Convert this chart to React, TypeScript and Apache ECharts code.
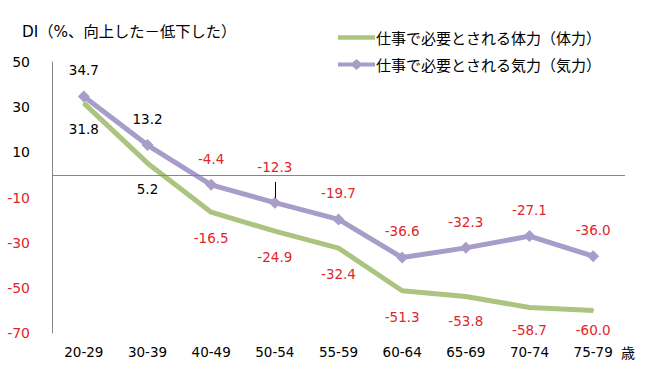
import React, { useEffect, useRef } from "react";
import * as echarts from "echarts";

const categories = ["20-29", "30-39", "40-49", "50-54", "55-59", "60-64", "65-69", "70-74", "75-79"];
const physical = [31.8, 5.2, -16.5, -24.9, -32.4, -51.3, -53.8, -58.7, -60.0];
const mental = [34.7, 13.2, -4.4, -12.3, -19.7, -36.6, -32.3, -27.1, -36.0];
const seriesNames = ["仕事で必要とされる体力（体力）", "仕事で必要とされる気力（気力）"];
const titleText = "DI（%、向上した－低下した）";
const unitText = "歳";

const LATIN = "'DejaVu Sans', 'Noto Sans CJK JP', sans-serif";
const CJK = "'Noto Sans CJK JP', 'DejaVu Sans', sans-serif";
const GREEN = "#abc480";
const PURPLE = "#a89cc8";
const RED = "#e0262a";

const greenDist = [18, 18, 18, 18, 18, 18, 16.5, 14.5, 11.5];
const purpleDist = [13.5, 13.5, 13.5, 22.5, 13.5, 13.5, 13.5, 13.5, 13.5];

const valColor = (v: number) => (v < 0 ? RED : "#000000");

export default function App() {
  const ref = useRef<HTMLDivElement>(null);
  useEffect(() => {
    if (!ref.current) return;
    const chart = echarts.init(ref.current, undefined, { renderer: "svg" });
    chart.setOption({
      animation: false,
      backgroundColor: "#ffffff",
      title: [
        {
          text: titleText,
          left: 22,
          top: 24,
          padding: 0,
          textStyle: { fontSize: 15.3, fontWeight: "normal", color: "#000", fontFamily: LATIN },
        },
        {
          text: unitText,
          left: 621,
          top: 345,
          padding: 0,
          textStyle: { fontSize: 14, fontWeight: "normal", color: "#000", fontFamily: CJK },
        },
      ],
      legend: {
        orient: "vertical",
        left: 338,
        top: 30,
        itemWidth: 37,
        itemHeight: 11,
        itemGap: 12,
        padding: 0,
        textStyle: { fontSize: 15, color: "#000", fontFamily: CJK, padding: [0, 0, 0, -4] },
        data: [
          { name: seriesNames[0], icon: "path://M0 0H40V5H0Z" },
          {
            name: seriesNames[1],
            icon: "path://M0 3.5H14.5L18.5 0L22.5 3.5H37V7.5H22.5L18.5 11L14.5 7.5H0Z",
          },
        ],
      },
      grid: { left: 52, right: 36, top: 62, bottom: 34 },
      xAxis: {
        type: "category",
        data: categories,
        boundaryGap: true,
        axisLine: { show: false },
        axisTick: { show: false },
        axisLabel: { margin: 12, fontSize: 13.5, color: "#000", fontFamily: LATIN },
      },
      yAxis: {
        type: "value",
        min: -70,
        max: 50,
        interval: 20,
        axisLine: { show: true, lineStyle: { color: "#868686", width: 1 } },
        axisTick: { show: false },
        splitLine: { show: false },
        axisLabel: {
          margin: 22,
          fontSize: 14,
          fontFamily: LATIN,
          color: (v: any) => valColor(Number(v)),
        },
      },
      series: [
        {
          name: seriesNames[0],
          type: "line",
          data: physical.map((v, i) => ({
            value: v,
            label: { color: valColor(v), distance: greenDist[i] },
          })),
          symbol: "circle",
          symbolSize: 2,
          itemStyle: { color: GREEN },
          lineStyle: { color: GREEN, width: 5 },
          label: {
            show: true,
            position: "bottom",
            fontSize: 13.5,
            fontFamily: LATIN,
            formatter: (p: any) => Number(p.value).toFixed(1),
          },
          z: 2,
        },
        {
          name: seriesNames[1],
          type: "line",
          data: mental.map((v, i) => ({
            value: v,
            label: { color: valColor(v), distance: purpleDist[i] },
          })),
          symbol: "diamond",
          symbolSize: 12,
          itemStyle: { color: PURPLE },
          lineStyle: { color: PURPLE, width: 5 },
          label: {
            show: true,
            position: "top",
            fontSize: 13.5,
            fontFamily: LATIN,
            formatter: (p: any) => Number(p.value).toFixed(1),
          },
          markLine: {
            silent: true,
            symbol: "none",
            label: { show: false },
            data: [
              [
                { xAxis: 0, yAxis: 0, x: 52, lineStyle: { color: "#868686", width: 1, type: "solid" } },
                { xAxis: 8, yAxis: 0, x: 625 },
              ],
              [
                { coord: [categories[3], -3.1], lineStyle: { color: "#000", width: 1, type: "solid" } },
                { coord: [categories[3], -10.2] },
              ],
            ],
          },
          z: 3,
        },
      ],
    });
    return () => chart.dispose();
  }, []);
  return (
    <div
      ref={ref}
      style={{ position: "fixed", left: 0, top: 0, width: 661, height: 367, background: "#fff" }}
    />
  );
}
